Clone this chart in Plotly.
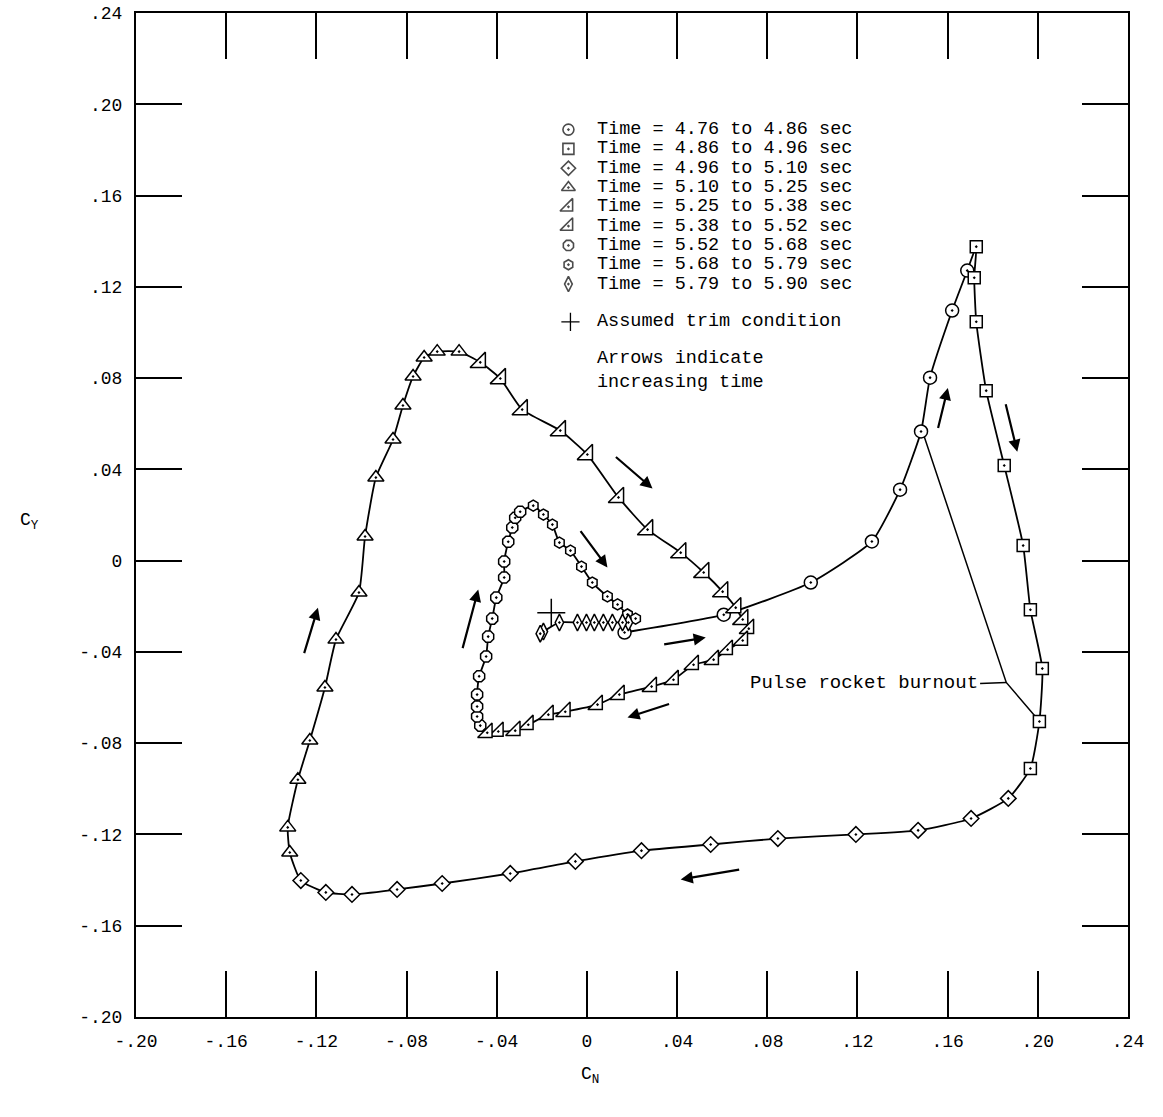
import plotly.graph_objects as go

# ---------------- data (C_N, C_Y) ----------------
t1_x = [0.0167, 0.0607, 0.0993, 0.1264, 0.1389, 0.1482, 0.1522, 0.1620, 0.1687]
t1_y = [-0.0315, -0.0237, -0.0096, 0.0084, 0.0311, 0.0566, 0.0802, 0.1096, 0.1271]

t2_x = [0.1727, 0.1718, 0.1727, 0.1771, 0.1851, 0.1935, 0.1967, 0.2020, 0.2007, 0.1967]
t2_y = [0.1376, 0.1240, 0.1047, 0.0745, 0.0417, 0.0066, -0.0215, -0.0473, -0.0705, -0.0911]

t3_x = [0.1869, 0.1704, 0.1469, 0.1193, 0.0847, 0.0549, 0.0242, -0.0051, -0.0340,
        -0.0642, -0.0842, -0.1042, -0.1158, -0.1269]
t3_y = [-0.1042, -0.1130, -0.1182, -0.1200, -0.1218, -0.1244, -0.1271, -0.1318, -0.1371,
        -0.1415, -0.1441, -0.1463, -0.1454, -0.1402]

t4_x = [-0.1318, -0.1327, -0.1282, -0.1229, -0.1162, -0.1113, -0.1011, -0.0984, -0.0936,
        -0.0860, -0.0816, -0.0771, -0.0722, -0.0664, -0.0567]
t4_y = [-0.1279, -0.1169, -0.0960, -0.0788, -0.0556, -0.0346, -0.0140, 0.0106, 0.0364,
        0.0531, 0.0680, 0.0807, 0.0890, 0.0916, 0.0916]

t5_x = [-0.0473, -0.0384, -0.0287, -0.0118, 0.0002, 0.0140, 0.0269, 0.0416, 0.0518,
        0.0602, 0.0660, 0.0691]
t5_y = [0.0869, 0.0798, 0.0662, 0.0570, 0.0465, 0.0277, 0.0136, 0.0035, -0.0052,
        -0.0136, -0.0206, -0.0258]

t6_x = [0.0718, 0.0691, 0.0624, 0.0562, 0.0473, 0.0384, 0.0287, 0.0144, 0.0047,
        -0.0096, -0.0171, -0.0260, -0.0318, -0.0393, -0.0442]
t6_y = [-0.0298, -0.0350, -0.0390, -0.0434, -0.0456, -0.0522, -0.0552, -0.0587, -0.0631,
        -0.0662, -0.0675, -0.0719, -0.0745, -0.0749, -0.0754]

t7_x = [-0.0473, -0.0487, -0.0487, -0.0487, -0.0478, -0.0447, -0.0438, -0.0420, -0.0402,
        -0.0367, -0.0367, -0.0349, -0.0331, -0.0318, -0.0296]
t7_y = [-0.0723, -0.0683, -0.0639, -0.0587, -0.0507, -0.0420, -0.0333, -0.0254, -0.0162,
        -0.0074, -0.0004, 0.0083, 0.0145, 0.0188, 0.0214]

t8_x = [-0.0238, -0.0193, -0.0153, -0.0122, -0.0073, -0.0024, 0.0024, 0.0091, 0.0136,
        0.0180, 0.0216]
t8_y = [0.0241, 0.0202, 0.0158, 0.0079, 0.0044, -0.0026, -0.0096, -0.0157, -0.0192,
        -0.0236, -0.0254]

t9_x = [0.0184, 0.0158, 0.0113, 0.0073, 0.0033, -0.0002, -0.0042, -0.0122, -0.0193, -0.0207]
t9_y = [-0.0271, -0.0271, -0.0271, -0.0271, -0.0271, -0.0271, -0.0271, -0.0271, -0.0311, -0.0320]

trim_x = [-0.0158]
trim_y = [-0.0228]

series_labels = [
    "Time = 4.76 to 4.86 sec",
    "Time = 4.86 to 4.96 sec",
    "Time = 4.96 to 5.10 sec",
    "Time = 5.10 to 5.25 sec",
    "Time = 5.25 to 5.38 sec",
    "Time = 5.38 to 5.52 sec",
    "Time = 5.52 to 5.68 sec",
    "Time = 5.68 to 5.79 sec",
    "Time = 5.79 to 5.90 sec",
]

# direction arrows: (tail_x, tail_y, head_x, head_y)
arrows = [
    (0.1556, 0.0575, 0.1601, 0.0757),
    (0.1856, 0.0692, 0.1909, 0.0477),
    (0.0122, 0.0460, 0.0291, 0.0316),
    (-0.0033, 0.0136, 0.0091, -0.0030),
    (-0.0553, -0.0390, -0.0482, -0.0127),
    (-0.1256, -0.0412, -0.1193, -0.0206),
    (0.0336, -0.0368, 0.0527, -0.0337),
    (0.0371, -0.0626, 0.0180, -0.0687),
    (0.0682, -0.1353, 0.0416, -0.1397),
]

# "Pulse rocket burnout" leader lines
burn_a_x = [0.1744, 0.1860]
burn_a_y = [-0.0538, -0.0534]
burn_b_x = [0.1496, 0.1860, 0.1989]
burn_b_y = [0.0544, -0.0534, -0.0683]

tick_vals = [-0.20, -0.16, -0.12, -0.08, -0.04, 0.0, 0.04, 0.08, 0.12, 0.16, 0.20, 0.24]
tick_text = ["-.20", "-.16", "-.12", "-.08", "-.04", "0", ".04", ".08", ".12", ".16", ".20", ".24"]

# ---------------- styling ----------------
FONT = "Liberation Mono"
series = [
    (t1_x, t1_y, "circle-dot", 13),
    (t2_x, t2_y, "square-dot", 12),
    (t3_x, t3_y, "diamond-dot", 12),
    (t4_x, t4_y, "triangle-up-dot", 14),
    (t5_x, t5_y, "triangle-se-dot", 17),
    (t6_x, t6_y, "triangle-se-dot", 16),
    (t7_x, t7_y, "octagon-dot", 12),
    (t8_x, t8_y, "hexagon-dot", 11),
    (t9_x, t9_y, "diamond-tall-dot", 12),
]

fig = go.Figure()

# continuous curve in time order
all_x, all_y = [], []
for sx, sy, _, _ in series:
    all_x += sx
    all_y += sy
fig.add_trace(go.Scatter(x=all_x, y=all_y, mode="lines",
                         line=dict(color="black", width=1.8, shape="spline", smoothing=0.5),
                         hoverinfo="skip", showlegend=False))

# burnout leader lines
fig.add_trace(go.Scatter(x=burn_a_x, y=burn_a_y, mode="lines",
                         line=dict(color="black", width=1.5), hoverinfo="skip", showlegend=False))
fig.add_trace(go.Scatter(x=burn_b_x, y=burn_b_y, mode="lines",
                         line=dict(color="black", width=1.5), hoverinfo="skip", showlegend=False))

# markers
for (sx, sy, sym, size), name in zip(series, series_labels):
    fig.add_trace(go.Scatter(x=sx, y=sy, mode="markers", name=name,
                             marker=dict(symbol=sym, size=size, color="white",
                                         line=dict(color="black", width=1.5)),
                             showlegend=False))

fig.add_trace(go.Scatter(x=trim_x, y=trim_y, mode="markers", name="Assumed trim condition",
                         marker=dict(symbol="cross-thin", size=20,
                                     line=dict(color="black", width=1.5)),
                         showlegend=False))

# ---------------- hand-made legend ----------------
leg_key_x = -0.0082
leg_text_x = 0.0038
leg_y0 = 0.1889
leg_dy = 0.00846
leg_rows = [leg_y0 - i * leg_dy for i in range(len(series_labels))]
leg_sizes = [11, 11, 11, 12, 14, 14, 11, 10, 11]

fig.add_trace(go.Scatter(
    x=[leg_key_x] * len(series), y=leg_rows, mode="markers",
    marker=dict(symbol=[s[2] for s in series], size=leg_sizes,
                color="white", line=dict(color="black", width=1.6)),
    hoverinfo="skip", showlegend=False))
fig.add_trace(go.Scatter(
    x=[leg_key_x + 0.0009], y=[0.1046], mode="markers",
    marker=dict(symbol="cross-thin", size=13, line=dict(color="black", width=1.3)),
    hoverinfo="skip", showlegend=False))

annotations = []
for yy, lab in zip(leg_rows, series_labels):
    annotations.append(dict(x=leg_text_x, y=yy, xref="x", yref="y", text=lab,
                            showarrow=False, xanchor="left", yanchor="middle",
                            font=dict(family=FONT, size=18.5, color="black")))
annotations.append(dict(x=leg_text_x, y=0.1046, xref="x", yref="y",
                        text="Assumed trim condition", showarrow=False,
                        xanchor="left", yanchor="middle",
                        font=dict(family=FONT, size=18.5, color="black")))
annotations.append(dict(x=leg_text_x, y=0.0834, xref="x", yref="y",
                        text="Arrows indicate<br>increasing time", showarrow=False,
                        xanchor="left", yanchor="middle", align="left",
                        font=dict(family=FONT, size=18.5, color="black")))
annotations.append(dict(x=0.1744, y=-0.0538, xref="x", yref="y",
                        text="Pulse rocket burnout", showarrow=False,
                        xanchor="right", yanchor="middle",
                        font=dict(family=FONT, size=19, color="black")))

for tx, ty, hx, hy in arrows:
    annotations.append(dict(x=hx, y=hy, ax=tx, ay=ty, xref="x", yref="y",
                            axref="x", ayref="y", text="", showarrow=True,
                            arrowhead=2, arrowsize=1.1, arrowwidth=2.2,
                            arrowcolor="black", standoff=0, startstandoff=0))

annotations.append(dict(x=-0.107, y=0.494, xref="paper", yref="paper",
                        xanchor="center", yanchor="middle",
                        text="C<sub>Y</sub>", showarrow=False,
                        font=dict(family=FONT, size=18, color="black")))
annotations.append(dict(x=0.4576, y=-0.058, xref="paper", yref="paper",
                        xanchor="center", yanchor="middle",
                        text="C<sub>N</sub>", showarrow=False,
                        font=dict(family=FONT, size=18, color="black")))

axis_common = dict(range=[-0.20, 0.24], tickvals=tick_vals, ticktext=tick_text,
                   ticks="inside", ticklen=46, tickwidth=1.6, tickcolor="black",
                   showline=True, linecolor="black", linewidth=2, mirror="ticks",
                   showgrid=False, zeroline=False, automargin=False,
                   tickfont=dict(family=FONT, size=18, color="black"))

fig.update_layout(
    width=1163, height=1117,
    margin=dict(l=136, r=35, t=13, b=100),
    paper_bgcolor="white", plot_bgcolor="white",
    xaxis=dict(**axis_common, ticklabelstandoff=6),
    yaxis=dict(**axis_common, ticklabelstandoff=8),
    annotations=annotations,
    showlegend=False,
)

fig.write_html("out.html")
